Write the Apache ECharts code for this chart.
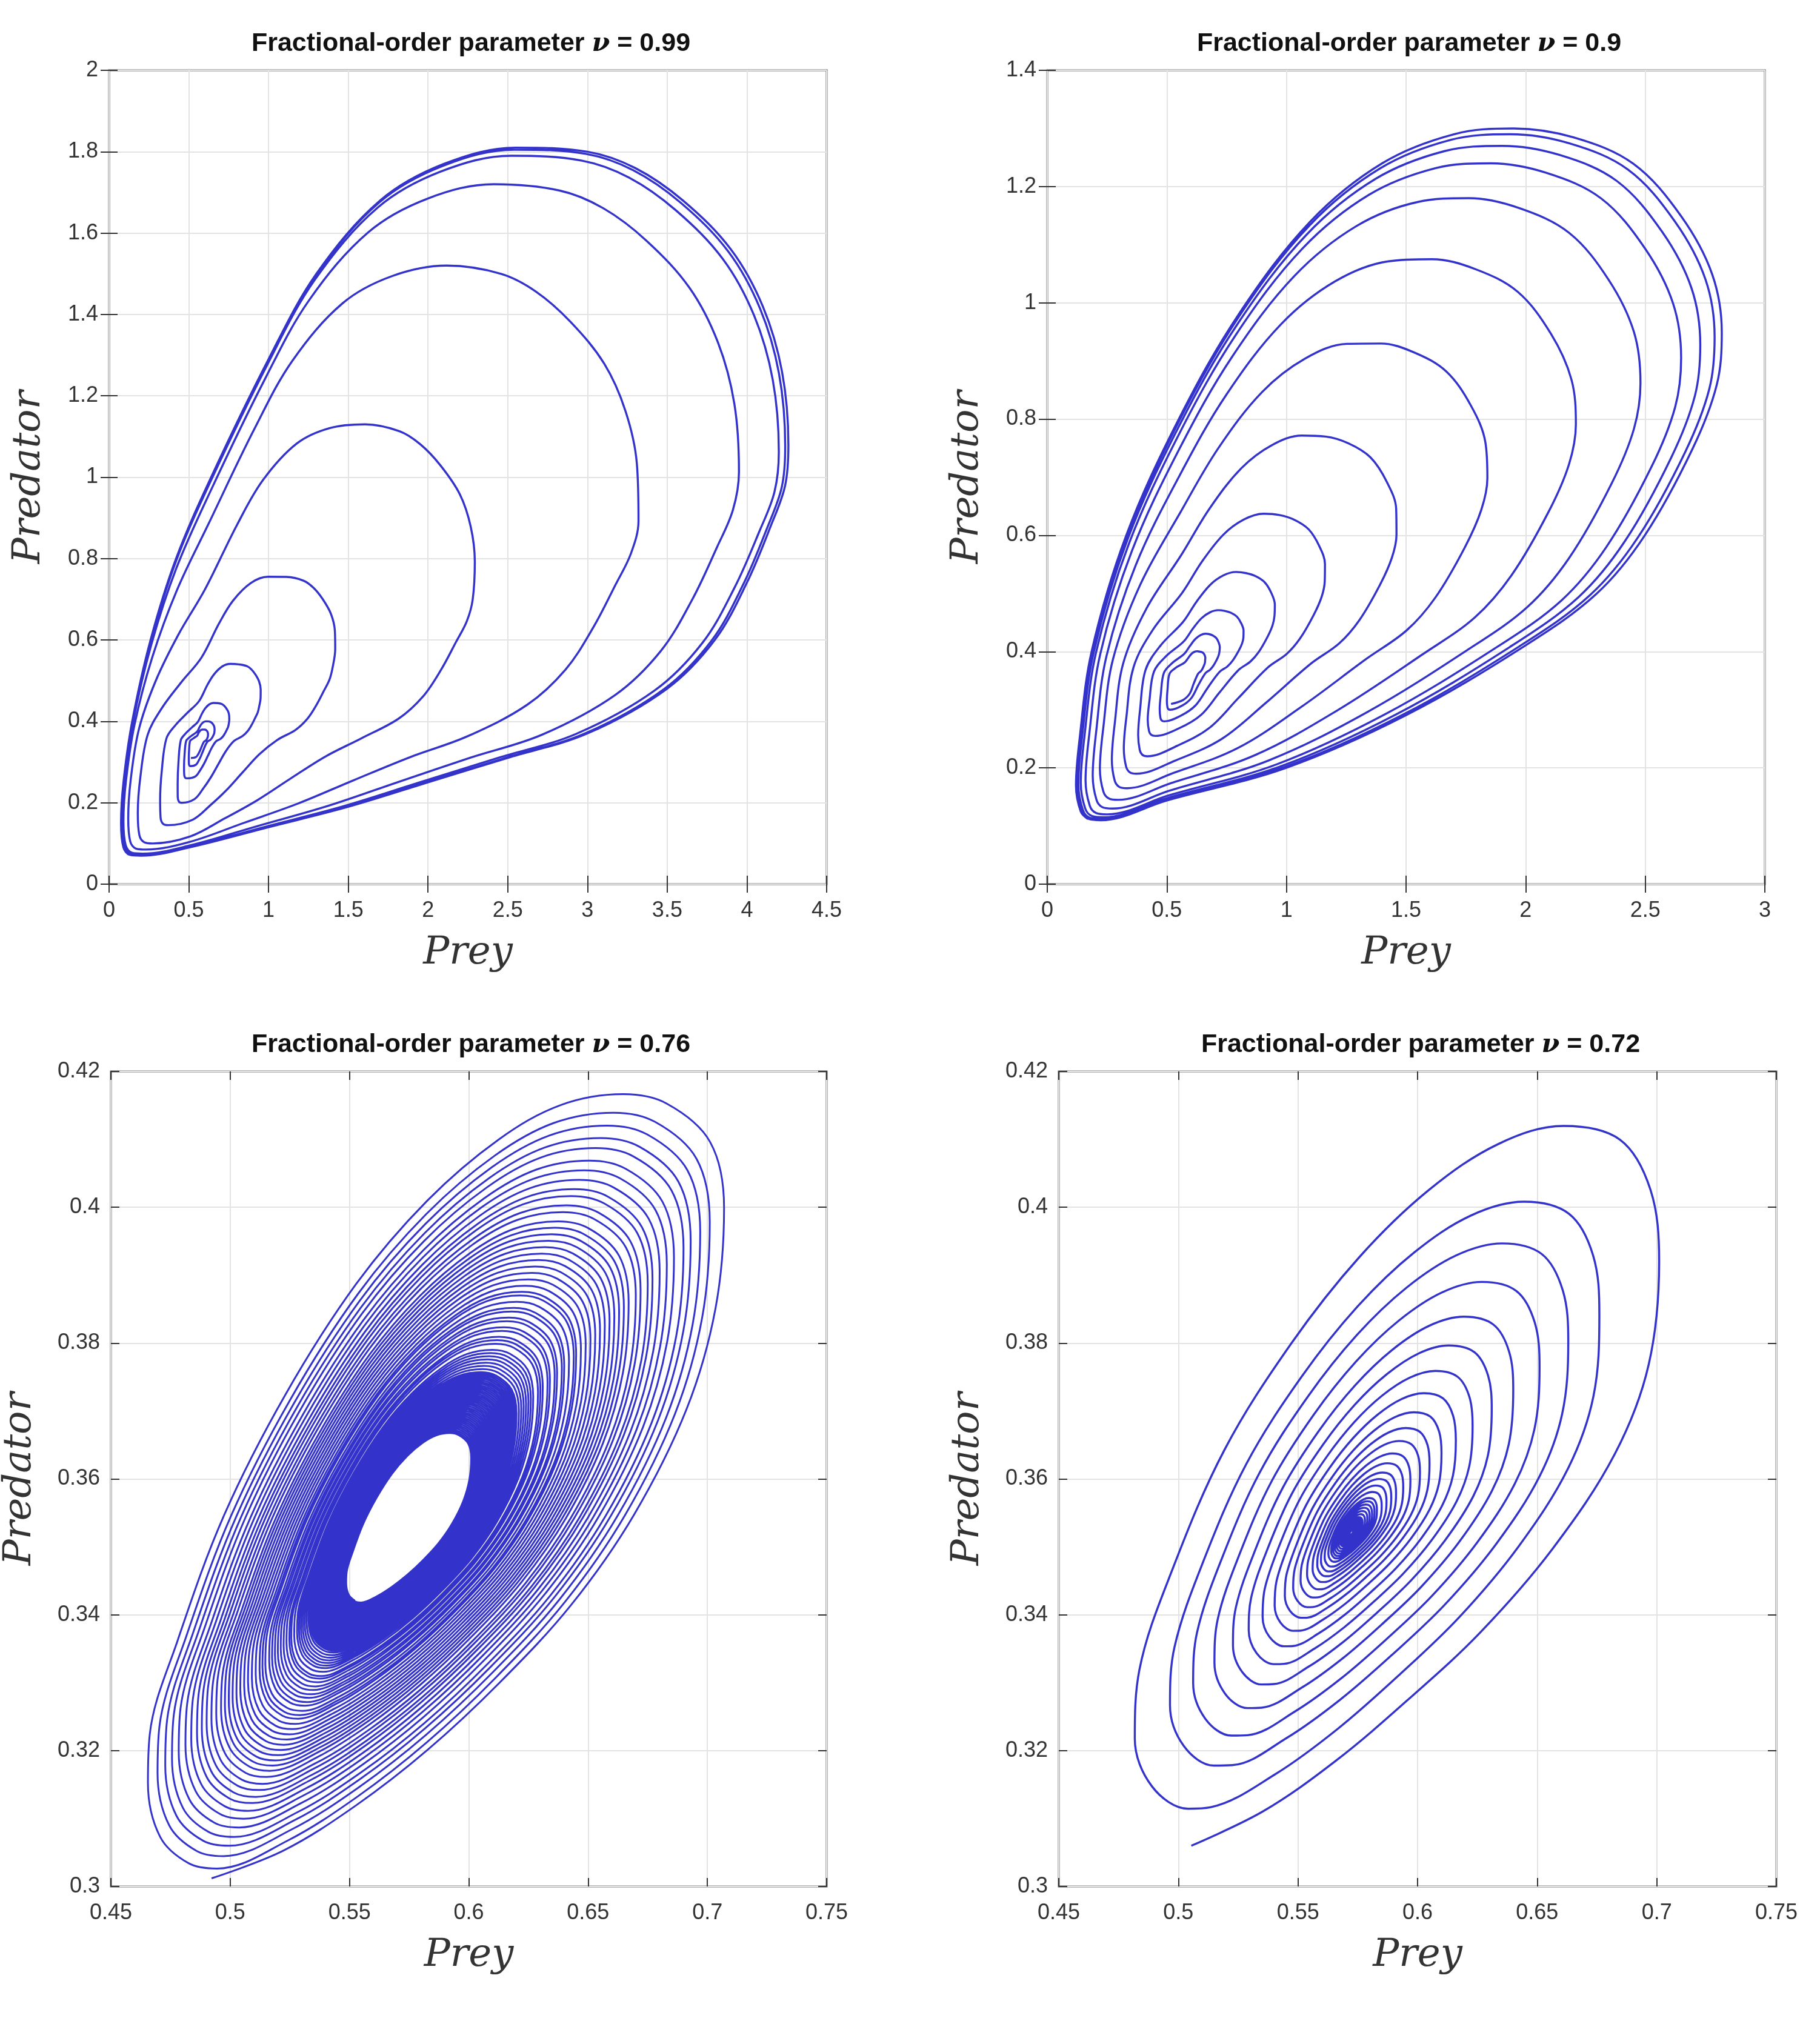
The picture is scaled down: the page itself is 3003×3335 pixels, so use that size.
<!DOCTYPE html>
<html><head><meta charset="utf-8">
<script src="https://cdn.jsdelivr.net/npm/echarts@6/dist/echarts.min.js"></script>
<style>html,body{margin:0;padding:0;background:#fff}#c{width:3003px;height:3335px}</style>
</head><body><div id="c"></div>
<script>
// ---- Data ----
const titles = ['0.99', '0.9', '0.76', '0.72'];

// nu = 0.99: outer (limit-cycle) loop, counter-clockwise from the lower-left corner
const shape099 = [[0.2,0.07],[0.5,0.09],[1.0,0.14],[1.5,0.19],[2.0,0.25],[2.5,0.31],[3.0,0.37],[3.5,0.48],[3.8,0.6],[4.0,0.74],[4.15,0.88],[4.24,0.98],[4.26,1.08],[4.22,1.26],[4.1,1.42],[3.9,1.56],[3.6,1.68],[3.3,1.76],[3.0,1.8],[2.55,1.81],[2.1,1.77],[1.7,1.68],[1.3,1.5],[1.0,1.29],[0.64,1.0],[0.42,0.8],[0.26,0.6],[0.145,0.4],[0.09,0.25],[0.075,0.15],[0.09,0.09],[0.13,0.072]];
const center099 = [0.55, 0.35];
const loops099 = [[0.62,0.38,0.5,0.31],[0.66,0.40,0.47,0.29],[0.75,0.445,0.43,0.26],[0.94,0.54,0.32,0.2],[1.4,0.755,0.18,0.145],[2.28,1.13,0.12,0.1],[3.32,1.52,0.09,0.085],[3.95,1.72,0.08,0.075],[4.2,1.79,0.077,0.072],[4.24,1.805,0.075,0.07],[4.26,1.81,0.075,0.07],[4.26,1.81,0.075,0.07]];

// nu = 0.9
const shape090 = [[0.22,0.11],[0.5,0.144],[1.0,0.2],[1.5,0.29],[2.0,0.41],[2.3,0.5],[2.5,0.6],[2.7,0.75],[2.8,0.86],[2.82,0.95],[2.78,1.05],[2.65,1.15],[2.45,1.24],[2.2,1.285],[1.95,1.3],[1.7,1.29],[1.4,1.24],[1.1,1.14],[0.8,0.98],[0.55,0.8],[0.33,0.6],[0.185,0.4],[0.135,0.25],[0.12,0.17],[0.14,0.125],[0.17,0.112]];
const center090 = [0.58, 0.36];
const loops090 = [[0.66,0.40,0.5,0.31],[0.72,0.43,0.47,0.30],[0.82,0.47,0.42,0.28],[0.95,0.535,0.38,0.255],[1.16,0.635,0.32,0.22],[1.46,0.77,0.27,0.19],[1.84,0.93,0.22,0.165],[2.21,1.075,0.19,0.145],[2.48,1.18,0.16,0.13],[2.65,1.24,0.14,0.12],[2.73,1.27,0.13,0.115],[2.79,1.29,0.125,0.112],[2.82,1.3,0.12,0.11],[2.82,1.3,0.12,0.11]];

// nu = 0.76: outer loop shape (counter-clockwise from the bottom), and right-most x of each loop
const shape076 = [[0.4922,0.3012],[0.5224,0.3053],[0.5526,0.3119],[0.5827,0.3201],[0.6129,0.33],[0.643,0.3415],[0.6692,0.3547],[0.6913,0.3703],[0.7034,0.3851],[0.707,0.3999],[0.7014,0.4097],[0.6833,0.4155],[0.6652,0.417],[0.639,0.4155],[0.6129,0.4105],[0.5827,0.4015],[0.5526,0.3892],[0.5224,0.3727],[0.4962,0.3547],[0.4761,0.3358],[0.4641,0.3218],[0.4631,0.3144],[0.4681,0.3062],[0.4802,0.3021]];
const center076 = [0.572, 0.353];
const loopRight076 = [0.707,0.701,0.697,0.693,0.690,0.686,0.683,0.680,0.677,0.675,0.672,0.670,0.667,0.665,0.663,0.661,0.659,0.657,0.655,0.653,0.651,0.649,0.647,0.645,0.644,0.642,0.640,0.639,0.637,0.636,0.634,0.633,0.631,0.630,0.629,0.627,0.626,0.625,0.624,0.623,0.622,0.621,0.620,0.6195,0.619,0.6185,0.618,0.6175,0.617,0.6165,0.616,0.6155,0.615,0.6145,0.614,0.6135,0.613,0.6125,0.612,0.6115,0.611,0.6105,0.610,0.6095,0.609,0.6085,0.608,0.6075,0.607,0.6065,0.606,0.6055,0.605,0.6045,0.604,0.6035,0.603,0.6025,0.602,0.6015,0.601,0.601];

// nu = 0.72
const shape072 = [[0.5054,0.306],[0.5356,0.3111],[0.5658,0.3185],[0.596,0.3275],[0.6262,0.3374],[0.6564,0.3497],[0.6825,0.3637],[0.6966,0.3768],[0.701,0.392],[0.6985,0.4030],[0.6866,0.411],[0.6634,0.4136],[0.636,0.4114],[0.606,0.4048],[0.5758,0.3949],[0.5456,0.3818],[0.5154,0.3653],[0.4913,0.3464],[0.4752,0.330],[0.4721,0.3185],[0.4792,0.3103],[0.4953,0.3062]];
const center072 = [0.572, 0.352];
const loopRight072 = [0.701,0.676,0.663,0.651,0.640,0.631,0.623,0.616,0.610,0.605,0.601,0.597,0.594,0.591,0.589,0.587,0.585,0.583,0.582,0.581,0.580,0.579,0.578,0.577,0.5765,0.576,0.5755,0.575,0.5745,0.574,0.5735,0.573,0.5725];

// ---- build trajectories: each read extreme is hit exactly where the template reaches it ----
function extremeIdx(shape) {
  let iR=0,iT=0,iL=0,iB=0;
  shape.forEach(function(p,i){
    if (p[0]>shape[iR][0]) iR=i; if (p[1]>shape[iT][1]) iT=i;
    if (p[0]<shape[iL][0]) iL=i; if (p[1]<shape[iB][1]) iB=i;
  });
  return [iR,iT,iL,iB];
}
function lerpList(list, u) {
  u = Math.max(0, Math.min(list.length-1, u));
  const k = Math.min(Math.floor(u), list.length-2), t = u-k;
  return list[k] + (list[k+1]-list[k])*t;
}
function buildFromExtremes(shape, c, loops) {
  const idx = extremeIdx(shape), n = shape.length, out = [];
  const e0 = idx.map(function (ii, q) { return shape[ii][q % 2]; });
  const cols = [0,1,2,3].map(function (q) { return loops.map(function (l) { return l[q]; }); });
  for (let k = 0; k < loops.length - 1; k++) {
    for (let j = 0; j < n; j++) {
      const e = cols.map(function (col, q) { return lerpList(col, k + (j - idx[q]) / n); });
      const p = shape[j], dx = p[0]-c[0], dy = p[1]-c[1];
      const sx = dx >= 0 ? (e[0]-c[0])/(e0[0]-c[0]) : (e[2]-c[0])/(e0[2]-c[0]);
      const sy = dy >= 0 ? (e[1]-c[1])/(e0[1]-c[1]) : (e[3]-c[1])/(e0[3]-c[1]);
      out.push([c[0]+sx*dx, c[1]+sy*dy]);
    }
  }
  return out;
}
function buildFromRight(shape, c, rights) {
  const iR = extremeIdx(shape)[0], R0 = shape[iR][0], out = [], n = shape.length;
  for (let k = 0; k < rights.length - 1; k++) {
    for (let j = 0; j < n; j++) {
      const xr = lerpList(rights, k + (j - iR) / n);
      const s = (xr-c[0])/(R0-c[0]), p = shape[j];
      out.push([c[0]+s*(p[0]-c[0]), c[1]+s*(p[1]-c[1])]);
    }
  }
  return out;
}
const traj099 = buildFromExtremes(shape099, center099, loops099);
const traj090 = buildFromExtremes(shape090, center090, loops090);
const traj076 = buildFromRight(shape076, center076, loopRight076);
const traj072 = buildFromRight(shape072, center072, loopRight072);
traj072.push(center072);

// ---- Chart ----
const BLUE = '#3333cc';
const grids = [
  {left:180, right:3003-1364, top:116, bottom:3335-1459},
  {left:1728, right:3003-2912, top:116, bottom:3335-1459},
  {left:180, right:3003-1364, top:1768, bottom:3335-3113},
  {left:1747, right:3003-2931, top:1768, bottom:3335-3113}
];
const xr = [[0,4.5,0.5],[0,3,0.5],[0.45,0.75,0.05],[0.45,0.75,0.05]];
const yr = [[0,2,0.2],[0,1.4,0.2],[0.3,0.42,0.02],[0.3,0.42,0.02]];
const fmt = function (v) { return String(+v.toFixed(2)); };
const tickFont = {fontFamily:'Liberation Sans, Arial', fontSize:36, color:'#333'};

const xAxis = [], yAxis = [], series = [], title = [];
const datas = [traj099, traj090, traj076, traj072];
const widths = [3.4, 3.4, 3, 3.4];
for (let i = 0; i < 4; i++) {
  const g = grids[i];
  const base = {min:xr[i][0], max:xr[i][1], interval:xr[i][2], gridIndex:i, type:'value'};
  const tick = {inside:true, length:14, lineStyle:{color:'#333', width:2}};
  xAxis.push(Object.assign({}, base, {
    position:'bottom', name:'Prey', nameLocation:'middle', nameGap:82,
    nameTextStyle:{fontFamily:'DejaVu Serif', fontStyle:'italic', fontSize:64, color:'#333'},
    axisLine:{show:false}, axisTick:tick,
    axisLabel:Object.assign({formatter:fmt, margin:26}, tickFont),
    splitLine:{show:true, lineStyle:{color:'#e3e3e3', width:2}}
  }));
  xAxis.push(Object.assign({}, base, {
    position:'top', axisLine:{show:false}, axisTick:tick, axisLabel:{show:false}, splitLine:{show:false}
  }));
  const ybase = {min:yr[i][0], max:yr[i][1], interval:yr[i][2], gridIndex:i, type:'value'};
  yAxis.push(Object.assign({}, ybase, {
    position:'left', name:'Predator', nameLocation:'middle', nameGap: i >= 2 ? 118 : 100,
    nameTextStyle:{fontFamily:'DejaVu Serif', fontStyle:'italic', fontSize:64, color:'#333'},
    axisLine:{show:false}, axisTick:tick,
    axisLabel:Object.assign({formatter:fmt, margin:18}, tickFont),
    splitLine:{show:true, lineStyle:{color:'#e3e3e3', width:2}}
  }));
  yAxis.push(Object.assign({}, ybase, {
    position:'right', axisLine:{show:false}, axisTick:tick, axisLabel:{show:false}, splitLine:{show:false}
  }));
  series.push({
    type:'line', xAxisIndex:2*i, yAxisIndex:2*i, data:datas[i], showSymbol:false, smooth:0.35,
    lineStyle:{color:BLUE, width:widths[i]}, animation:false, clip:true
  });
  title.push({
    text:'{b|Fractional-order parameter }{i|ν}{b| = ' + titles[i] + '}',
    left:(g.left + (3003 - g.right)) / 2, textAlign:'center', top:g.top - 70,
    textStyle:{rich:{
      b:{fontFamily:'Liberation Sans, Arial', fontWeight:'bold', fontSize:43, color:'#111'},
      i:{fontFamily:'DejaVu Serif', fontStyle:'italic', fontSize:43, color:'#111'}
    }}
  });
}

const chart = echarts.init(document.getElementById('c'), null, {renderer:'canvas'});
chart.setOption({
  backgroundColor:'#fff', animation:false, title:title,
  grid:grids.map(function (g) { return Object.assign({show:true, borderColor:'#666', borderWidth:3, backgroundColor:'#fff'}, g); }),
  xAxis:xAxis, yAxis:yAxis, series:series
});
</script></body></html>
